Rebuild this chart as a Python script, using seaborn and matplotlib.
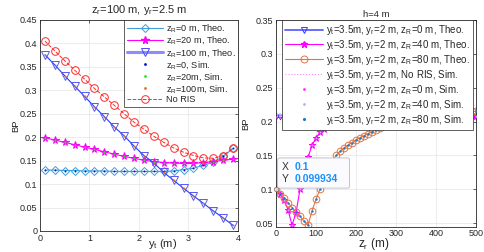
import numpy as np
import matplotlib
matplotlib.use("Agg")
import matplotlib.pyplot as plt
import seaborn as sns
from matplotlib.lines import Line2D
from matplotlib.patches import FancyBboxPatch

# ---- left panel data (z_r = 100 m, y_r = 2.5 m) ----
y_t = [0.1, 0.3, 0.5, 0.7, 0.9, 1.1, 1.3, 1.5, 1.7, 1.9,
       2.1, 2.3, 2.5, 2.7, 2.9, 3.1, 3.3, 3.5, 3.7, 3.9]
bp_zR0 = [0.130, 0.130, 0.129, 0.129, 0.128, 0.128, 0.128, 0.127, 0.127, 0.127,
          0.127, 0.127, 0.127, 0.128, 0.131, 0.134, 0.140, 0.147, 0.159, 0.176]
bp_zR20 = [0.199, 0.194, 0.189, 0.184, 0.179, 0.174, 0.169, 0.164, 0.159, 0.155,
           0.151, 0.148, 0.146, 0.145, 0.144, 0.144, 0.146, 0.148, 0.151, 0.153]
bp_zR100 = [0.376, 0.354, 0.331, 0.309, 0.287, 0.265, 0.244, 0.222, 0.203, 0.181,
            0.161, 0.145, 0.125, 0.108, 0.091, 0.075, 0.059, 0.043, 0.028, 0.012]
bp_noris = [0.405, 0.384, 0.363, 0.343, 0.324, 0.304, 0.286, 0.268, 0.250, 0.232,
            0.217, 0.202, 0.189, 0.177, 0.168, 0.161, 0.156, 0.155, 0.161, 0.177]

# ---- right panel data (h = 4 m) ----
z_r = list(range(0, 501, 10))
bp_h_zR0 = [0.206] * len(z_r)
bp_h_noris = [0.212] * len(z_r)
bp_h_zR40 = [0.100, 0.093, 0.084, 0.070, 0.047, 0.065, 0.100, 0.128, 0.147, 0.165,
             0.176, 0.184, 0.189, 0.194, 0.197, 0.200, 0.203, 0.206, 0.208, 0.211,
             0.213, 0.214, 0.214, 0.213, 0.213, 0.212, 0.212, 0.211, 0.211, 0.210,
             0.210, 0.210, 0.209, 0.209, 0.209, 0.209, 0.209, 0.208, 0.208, 0.208,
             0.208, 0.208, 0.208, 0.208, 0.208, 0.208, 0.208, 0.208, 0.208, 0.208, 0.208]
bp_h_zR80 = [0.100, 0.093, 0.087, 0.080, 0.073, 0.066, 0.060, 0.053, 0.047, 0.068,
             0.085, 0.100, 0.115, 0.128, 0.140, 0.150, 0.156, 0.161, 0.165, 0.169,
             0.173, 0.176, 0.179, 0.182, 0.185, 0.188, 0.190, 0.193, 0.195, 0.197,
             0.199, 0.201, 0.203, 0.205, 0.206, 0.208, 0.209, 0.210, 0.211, 0.212,
             0.213, 0.214, 0.214, 0.215, 0.215, 0.215, 0.215, 0.215, 0.215, 0.215, 0.215]

left_labels = [r'$\mathregular{z_R}$=0 m, Theo.', r'$\mathregular{z_R}$=20 m, Theo.',
               r'$\mathregular{z_R}$=100 m, Theo.', r'$\mathregular{z_R}$=0, Sim.',
               r'$\mathregular{z_R}$=20m, Sim.', r'$\mathregular{z_R}$=100m, Sim.', 'No RIS']
pre = r'$\mathregular{y_t}$=3.5m, $\mathregular{y_r}$=2 m, '
right_labels = [pre + r'$\mathregular{z_R}$=0 m, Theo.', pre + r'$\mathregular{z_R}$=40 m, Theo.',
                pre + r'$\mathregular{z_R}$=80 m, Theo.', pre + 'No RIS, Sim.',
                pre + r'$\mathregular{z_R}$=0 m, Sim.', pre + r'$\mathregular{z_R}$=40 m, Sim.',
                pre + r'$\mathregular{z_R}$=80 m, Sim.']

sns.set_style("whitegrid")
plt.rcParams['font.family'] = ['Liberation Sans', 'DejaVu Sans']
plt.rcParams['mathtext.fontset'] = 'custom'
plt.rcParams['mathtext.rm'] = 'Liberation Sans'

c_lblue = '#3f9fdc'
c_mag = '#ff00ff'
c_blue = '#3a3aff'
c_red = '#ff2a2a'
c_orange = '#e4743f'
c_dot = '#1f77c4'

fig = plt.figure(figsize=(4.85, 2.52), dpi=100)
ax1 = fig.add_axes([40/485, 21/252, 198/485, 211/252])
ax2 = fig.add_axes([276/485, 25.5/252, 200/485, 206.5/252])

# ----- left panel -----
sns.lineplot(x=y_t, y=bp_zR0, ax=ax1, color=c_lblue, lw=0.8, marker='D', ms=3.8,
             mfc='none', mec=c_lblue, mew=0.7)
sns.lineplot(x=y_t, y=bp_zR20, ax=ax1, color=c_mag, lw=0.8, marker='*', ms=5.5,
             mfc=c_mag, mec=c_mag)
sns.lineplot(x=y_t, y=bp_zR100, ax=ax1, color='#2040ff', lw=0.8, marker='v', ms=5.5,
             mfc='none', mec='#5858f0', mew=0.7)
sns.lineplot(x=y_t, y=bp_noris, ax=ax1, color=c_red, lw=0.7, ls='--', marker='o', ms=5.5,
             mfc='none', mec=c_red, mew=0.7)
sns.scatterplot(x=y_t, y=bp_zR0, ax=ax1, color='#1010c0', s=2, linewidth=0, zorder=5)
sns.scatterplot(x=y_t, y=bp_zR20, ax=ax1, color='#30e030', s=2, linewidth=0, zorder=5)
sns.scatterplot(x=y_t, y=bp_zR100, ax=ax1, color='#e07030', s=2, linewidth=0, zorder=5)

ax1.set_xlim(0, 4)
ax1.set_ylim(0, 0.45)
ax1.set_xticks([0, 1, 2, 3, 4])
ax1.set_yticks(np.arange(0, 0.451, 0.05))
ax1.set_yticklabels(['0', '0.05', '0.1', '0.15', '0.2', '0.25', '0.3', '0.35', '0.4', '0.45'])
ax1.set_title(r'$\mathregular{z_r}$=100 m, $\mathregular{y_r}$=2.5 m', fontsize=8, pad=5)
ax1.set_xlabel(r'$\mathregular{y_t}$ (m)', fontsize=8)
ax1.set_ylabel('BP', fontsize=6.8)
ax1.xaxis.set_label_coords(0.62, -0.03)
ax1.yaxis.set_label_coords(-0.10, 0.5)

h1 = [Line2D([], [], color=c_lblue, lw=0.8, marker='D', ms=3.8, mfc='none', mew=0.7),
      Line2D([], [], color=c_mag, lw=0.8, marker='*', ms=5.5),
      Line2D([], [], color='#8c8cff', lw=2.2, marker='v', ms=5.5, mfc='none', mec='#4848f0', mew=0.7),
      Line2D([], [], color='#1010c0', lw=0, marker='.', ms=2),
      Line2D([], [], color='#30e030', lw=0, marker='.', ms=2),
      Line2D([], [], color='#e07030', lw=0, marker='.', ms=2),
      Line2D([], [], color=c_red, lw=0.7, ls='--', marker='o', ms=5.5, mfc='none', mew=0.7)]
ax1.legend(h1, left_labels, loc='upper right', fontsize=6.6, frameon=True, fancybox=False,
           edgecolor='#222222', framealpha=1, borderaxespad=0, borderpad=0.25,
           handlelength=4.0, handletextpad=0.3, labelspacing=0.02).get_frame().set_linewidth(0.5)

# ----- right panel -----
sns.lineplot(x=z_r, y=bp_h_noris, ax=ax2, color='#ff88ff', lw=0.8, ls=':')
sns.lineplot(x=z_r, y=bp_h_zR0, ax=ax2, color=c_blue, lw=0.8, marker='v', ms=3.5,
             mfc='none', mec=c_blue, mew=0.6)
sns.lineplot(x=z_r, y=bp_h_zR40, ax=ax2, color=c_mag, lw=0.8, marker='*', ms=4.5,
             mfc=c_mag, mec=c_mag)
sns.lineplot(x=z_r, y=bp_h_zR80, ax=ax2, color=c_orange, lw=0.8, marker='o', ms=4.8,
             mfc='none', mec=c_orange, mew=0.7)
sns.scatterplot(x=z_r, y=bp_h_zR0, ax=ax2, color='#ff30ff', s=2, linewidth=0, zorder=5)
sns.scatterplot(x=z_r, y=bp_h_zR40, ax=ax2, color='#c8a8f0', s=2, linewidth=0, zorder=5)
sns.scatterplot(x=z_r, y=bp_h_zR80, ax=ax2, color=c_dot, s=3, linewidth=0, zorder=5)

ax2.set_xlim(0, 500)
ax2.set_ylim(0.045, 0.35)
ax2.set_xticks([0, 100, 200, 300, 400, 500])
ax2.set_yticks(np.arange(0.05, 0.351, 0.05))
ax2.set_yticklabels(['0.05', '0.1', '0.15', '0.2', '0.25', '0.3', '0.35'])
ax2.set_title('h=4 m', fontsize=6.8, pad=2)
ax2.set_xlabel(r'$\mathregular{z_r}$ (m)', fontsize=8.5)
ax2.set_ylabel('BP', fontsize=6.8)
ax2.xaxis.set_label_coords(0.49, -0.045)
ax2.yaxis.set_label_coords(-0.13, 0.5)

h2 = [Line2D([], [], color='#6b6bff', lw=1.4, marker='v', ms=5, mfc='none', mec=c_blue, mew=0.7),
      Line2D([], [], color=c_mag, lw=0.8, marker='*', ms=5),
      Line2D([], [], color=c_orange, lw=0.8, marker='o', ms=5, mfc='none', mew=0.7),
      Line2D([], [], color='#ff88ff', lw=0.8, ls=':'),
      Line2D([], [], color='#ff30ff', lw=0, marker='.', ms=2),
      Line2D([], [], color='#c8a8f0', lw=0, marker='.', ms=2),
      Line2D([], [], color=c_dot, lw=0, marker='.', ms=2.5)]
ax2.legend(h2, right_labels, loc='upper right', bbox_to_anchor=(0.985, 1), fontsize=7.0,
           frameon=True, fancybox=False, edgecolor='#222222', framealpha=1, borderaxespad=0,
           borderpad=0.3, handlelength=3.9, handletextpad=0.3,
           labelspacing=0.1).get_frame().set_linewidth(0.5)

# data tip
ax2.scatter([0], [0.1], s=10, color='#e8d8b8', edgecolor='#777777', linewidth=0.5,
            zorder=7, clip_on=False)
tip = FancyBboxPatch((0.008, 0.186), 0.36, 0.146, boxstyle='round,pad=0,rounding_size=0.01',
                     transform=ax2.transAxes, facecolor='#fbfbfd', edgecolor='#b8b8c8',
                     lw=0.6, zorder=8)
ax2.add_patch(tip)
ax2.text(0.03, 0.29, 'X', transform=ax2.transAxes, fontsize=7.5, color='#333333',
         va='center', zorder=9)
ax2.text(0.095, 0.29, '0.1', transform=ax2.transAxes, fontsize=7.5, color='#1a90ff',
         va='center', fontweight='bold', zorder=9)
ax2.text(0.03, 0.228, 'Y', transform=ax2.transAxes, fontsize=7.5, color='#333333',
         va='center', zorder=9)
ax2.text(0.095, 0.228, '0.099934', transform=ax2.transAxes, fontsize=7.5, color='#1a90ff',
         va='center', fontweight='bold', zorder=9)

for ax in (ax1, ax2):
    ax.grid(True, color='#e4e4e4', lw=0.5)
    ax.tick_params(direction='in', length=2, width=0.5, labelsize=6.5, pad=2,
                   colors='#262626', top=True, right=True)
    for s in ax.spines.values():
        s.set_color('#262626')
        s.set_linewidth(0.6)
    ax.set_facecolor('white')

fig.savefig('out.png', dpi=100)
